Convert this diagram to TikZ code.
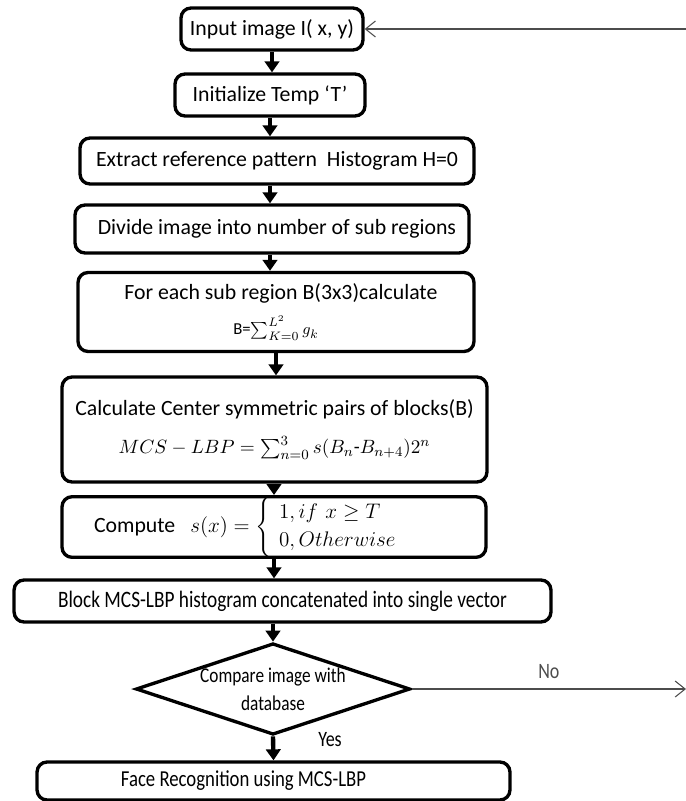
\documentclass[tikz,border=0pt]{standalone}
\usepackage{amsmath,amssymb}
\usepackage{fontspec}
\setmainfont{Carlito}
\newfontfamily\narrowfont[FakeStretch=0.82]{Carlito}
\usepackage{tikz}
\usetikzlibrary{positioning,arrows.meta,shapes.geometric}

\begin{document}
\begin{tikzpicture}[x=0.02cm, y=-0.02cm,
  stepbox/.style={draw, line width=1.9pt, rounded corners=2mm,
                  align=center, inner sep=0pt,
                  font=\fontsize{12.4}{14}\selectfont},
  decision/.style={draw, diamond, line width=1.9pt, aspect=3,
                   inner sep=0pt, align=center,
                   font=\narrowfont\fontsize{12}{16}\selectfont},
  flow/.style={-{Triangle[length=2.2mm, width=2.9mm]}, line width=2.5pt},
  loopline/.style={-{Straight Barb[length=2mm, width=3.2mm]}, line width=0.6pt, black!70},
  lbl/.style={font=\narrowfont\fontsize{12.5}{14}\selectfont},
  ]
  \useasboundingbox (0,0) rectangle (686,801);

  \node[stepbox, minimum width=3.64cm, minimum height=0.84cm] (input) at (272,29)
    {Input image I( x, y)};
  \node[stepbox, minimum width=3.8cm, minimum height=0.84cm] (init) at (270,95)
    {Initialize Temp `T'};
  \node[stepbox, minimum width=7.88cm, minimum height=0.92cm] (extract) at (277,161)
    {Extract reference pattern\ \ Histogram H=0};
  \node[stepbox, minimum width=7.88cm, minimum height=0.96cm] (divide) at (272,229)
    {\ \ Divide image into number of sub regions};
  \node[stepbox, minimum width=7.92cm, minimum height=1.58cm] (subreg) at (276,312)
    {\ \ For each sub region B(3x3)calculate\\[6pt]
     {\fontsize{9.5}{11}\selectfont B=$\sum_{K=0}^{L^2} g_k$}};
  \node[stepbox, minimum width=8.5cm, minimum height=2.1cm] (pairs) at (274.5,429.5)
    {Calculate Center symmetric pairs of blocks(B)\\[8pt]
     {\fontsize{11}{13}\selectfont $MCS-LBP=\sum_{n=0}^{3} s(B_n\text{-}B_{n+4})2^n$}};
  \node[stepbox, minimum width=8.48cm, minimum height=1.2cm, text width=7.2cm,
        align=left] (compute) at (274,527)
    {Compute\hspace{0.3cm}{\fontsize{11.5}{13}\selectfont
     $s(x)=\begin{cases}\ 1, if\ x\geq T\\
     \ 0, Otherwise\end{cases}$}};
  \node[stepbox, minimum width=10.74cm, minimum height=0.84cm,
        font=\narrowfont\fontsize{13.4}{15}\selectfont] (block) at (282.5,601)
    {Block MCS-LBP histogram concatenated into single vector};
  \node[decision, minimum width=5.46cm, minimum height=1.76cm] (compare) at (273,689)
    {Compare image with\\database};
  \node[stepbox, minimum width=9.46cm, minimum height=0.76cm,
        font=\narrowfont\fontsize{13}{15}\selectfont] (face) at (273.5,781)
    {\hspace{-1.2cm}Face Recognition using MCS-LBP};

  \coordinate (noend) at (686,689);
  \coordinate (backin) at (686,29);

  % main flow
  \draw[flow] (input.south) -- (input.south |- init.north);
  \draw[flow] (init.south) -- (init.south |- extract.north);
  \draw[flow] (init.south |- extract.south) -- (init.south |- divide.north);
  \draw[flow] (init.south |- divide.south) -- (init.south |- subreg.north);
  \draw[flow] (subreg.south) -- (subreg.south |- pairs.north);
  \draw[flow] (compute.north |- pairs.south) -- (compute.north);
  \draw[flow] (compute.south) -- (compute.south |- block.north);
  \draw[flow] (compare.north |- block.south) -- (compare.north);
  \draw[flow] (compare.south) -- (face.north);

  % no branch and loop back
  \draw[loopline] (compare.east) -- node[lbl, above=2pt, pos=0.5] {No} (noend);
  \draw[loopline] (backin) -- (input.east);
  \node[lbl] (yes) at (330,740) {Yes};
\end{tikzpicture}
\end{document}
